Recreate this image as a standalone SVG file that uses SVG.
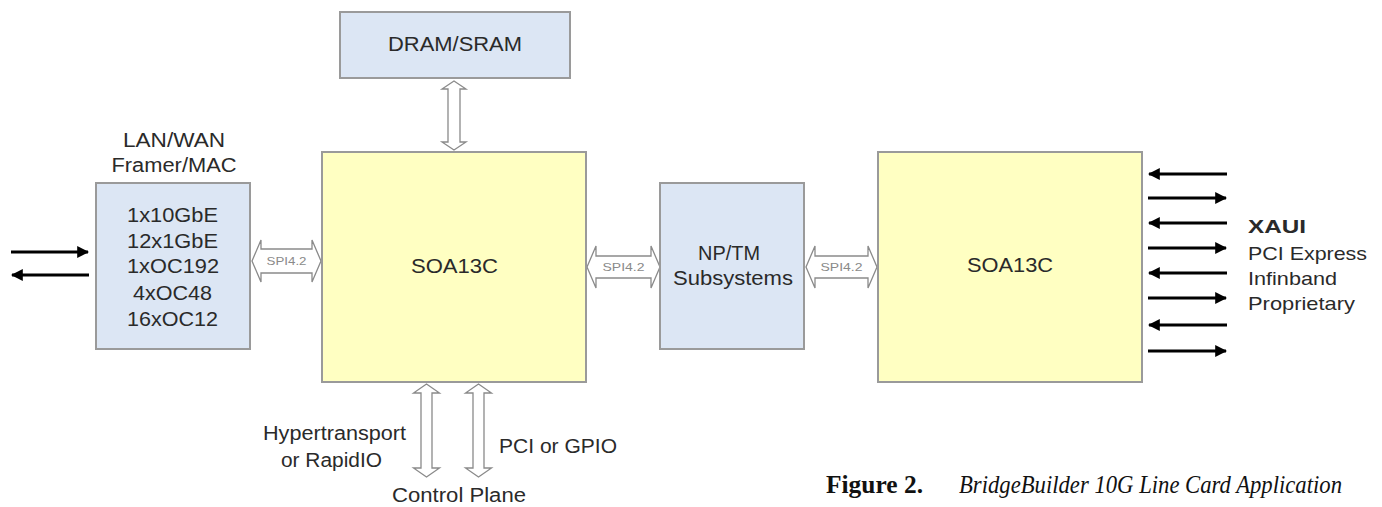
<svg xmlns="http://www.w3.org/2000/svg" width="1382" height="507" viewBox="0 0 1382 507">
<style>
.blue{fill:#dce6f4;stroke:#9a9a9a;stroke-width:2}
.yel{fill:#ffffc2;stroke:#9a9a9a;stroke-width:2}
.t{font-family:"Liberation Sans",Arial,sans-serif;font-size:20px;fill:#2a2a2a;text-anchor:middle}
.ts{font-family:"Liberation Sans",Arial,sans-serif;font-size:19px;fill:#2a2a2a}
.spi{font-family:"Liberation Sans",Arial,sans-serif;font-size:11px;fill:#8a8a8a;text-anchor:middle}
.hol{fill:#ffffff;stroke:#8a8a8a;stroke-width:1.3}
.ln{stroke:#000;stroke-width:3;fill:none}
.cap{font-family:"Liberation Serif","Times New Roman",serif;font-size:25px;fill:#111}
</style>
<defs>
<marker id="ah" viewBox="0 0 10 10" refX="9" refY="5" markerWidth="4" markerHeight="4" orient="auto-start-reverse" markerUnits="strokeWidth">
<path d="M0,0 L10,5 L0,10 z" fill="#000"/>
</marker>
</defs>

<g id="connectors">
<line class="ln" x1="11" y1="252" x2="88" y2="252" marker-end="url(#ah)"/>
<line class="ln" x1="89" y1="275" x2="12" y2="275" marker-end="url(#ah)"/>
<line class="ln" x1="1227" y1="174" x2="1149" y2="174" marker-end="url(#ah)"/>
<line class="ln" x1="1148" y1="198" x2="1226" y2="198" marker-end="url(#ah)"/>
<line class="ln" x1="1227" y1="223" x2="1149" y2="223" marker-end="url(#ah)"/>
<line class="ln" x1="1148" y1="248" x2="1226" y2="248" marker-end="url(#ah)"/>
<line class="ln" x1="1227" y1="273" x2="1149" y2="273" marker-end="url(#ah)"/>
<line class="ln" x1="1148" y1="298" x2="1226" y2="298" marker-end="url(#ah)"/>
<line class="ln" x1="1227" y1="325" x2="1149" y2="325" marker-end="url(#ah)"/>
<line class="ln" x1="1148" y1="351" x2="1226" y2="351" marker-end="url(#ah)"/>
<path class="hol" d="M252,261 L261,240 L261,249 L312,249 L312,240 L321,261 L312,282 L312,273 L261,273 L261,282 Z"/>
<text class="spi" x="286.5" y="265" textLength="40" lengthAdjust="spacingAndGlyphs">SPI4.2</text>
<path class="hol" d="M587,267 L596,246 L596,256 L651,256 L651,246 L660,267 L651,288 L651,278 L596,278 L596,288 Z"/>
<text class="spi" x="623.5" y="271" textLength="42" lengthAdjust="spacingAndGlyphs">SPI4.2</text>
<path class="hol" d="M806,267 L815,246 L815,256 L868,256 L868,246 L877,267 L868,288 L868,278 L815,278 L815,288 Z"/>
<text class="spi" x="841.5" y="271" textLength="42" lengthAdjust="spacingAndGlyphs">SPI4.2</text>
<path class="hol" d="M454,81 L466,89 L460,89 L460,142 L466,142 L454,150 L442,142 L448,142 L448,89 L442,89 Z"/>
<path class="hol" d="M426.5,384 L439.5,393 L432,393 L432,468 L439.5,468 L426.5,477 L413.5,468 L421,468 L421,393 L413.5,393 Z"/>
<path class="hol" d="M478.5,384 L491.5,393 L484,393 L484,468 L491.5,468 L478.5,477 L465.5,468 L473,468 L473,393 L465.5,393 Z"/>
</g>

<g id="dram">
<rect class="blue" x="340" y="12" width="230" height="66"/>
<text class="t" x="455" y="51" textLength="134" lengthAdjust="spacingAndGlyphs">DRAM/SRAM</text>
</g>

<g id="framer-label">
<text class="t" x="174" y="147" textLength="102" lengthAdjust="spacingAndGlyphs">LAN/WAN</text>
<text class="t" x="174" y="172" textLength="125" lengthAdjust="spacingAndGlyphs">Framer/MAC</text>
</g>

<g id="framer">
<rect class="blue" x="96" y="183" width="154" height="166"/>
<text class="t" x="172.5" y="222" textLength="91" lengthAdjust="spacingAndGlyphs">1x10GbE</text>
<text class="t" x="172.5" y="248" textLength="91" lengthAdjust="spacingAndGlyphs">12x1GbE</text>
<text class="t" x="173" y="273" textLength="92" lengthAdjust="spacingAndGlyphs">1xOC192</text>
<text class="t" x="172.5" y="300" textLength="79" lengthAdjust="spacingAndGlyphs">4xOC48</text>
<text class="t" x="172.5" y="326" textLength="91" lengthAdjust="spacingAndGlyphs">16xOC12</text>
</g>

<g id="soa-left">
<rect class="yel" x="322" y="152" width="264" height="230"/>
<text class="t" x="454.5" y="273" textLength="87" lengthAdjust="spacingAndGlyphs">SOA13C</text>
</g>

<g id="nptm">
<rect class="blue" x="660" y="183" width="144" height="166"/>
<text class="t" x="729" y="260" textLength="62" lengthAdjust="spacingAndGlyphs">NP/TM</text>
<text class="t" x="733" y="285" textLength="120" lengthAdjust="spacingAndGlyphs">Subsystems</text>
</g>

<g id="soa-right">
<rect class="yel" x="878" y="152" width="264" height="230"/>
<text class="t" x="1010" y="272" textLength="86" lengthAdjust="spacingAndGlyphs">SOA13C</text>
</g>

<g id="interfaces">
<text class="ts" x="1248" y="233" font-weight="bold" textLength="58" lengthAdjust="spacingAndGlyphs">XAUI</text>
<text class="ts" x="1248" y="260" textLength="119" lengthAdjust="spacingAndGlyphs">PCI Express</text>
<text class="ts" x="1248" y="285" textLength="89" lengthAdjust="spacingAndGlyphs">Infinband</text>
<text class="ts" x="1248" y="310" textLength="107" lengthAdjust="spacingAndGlyphs">Proprietary</text>
</g>

<g id="control-labels">
<text class="t" x="334.5" y="440" textLength="143" lengthAdjust="spacingAndGlyphs">Hypertransport</text>
<text class="t" x="331.5" y="467" textLength="101" lengthAdjust="spacingAndGlyphs">or RapidIO</text>
<text class="t" x="558" y="453" textLength="118" lengthAdjust="spacingAndGlyphs">PCI or GPIO</text>
<text class="t" x="459" y="502" textLength="134" lengthAdjust="spacingAndGlyphs">Control Plane</text>
</g>

<g id="caption">
<text class="cap" x="826" y="493" font-weight="bold" textLength="97" lengthAdjust="spacingAndGlyphs">Figure 2.</text>
<text class="cap" x="959" y="493" font-style="italic" textLength="383" lengthAdjust="spacingAndGlyphs">BridgeBuilder 10G Line Card Application</text>
</g>
</svg>
